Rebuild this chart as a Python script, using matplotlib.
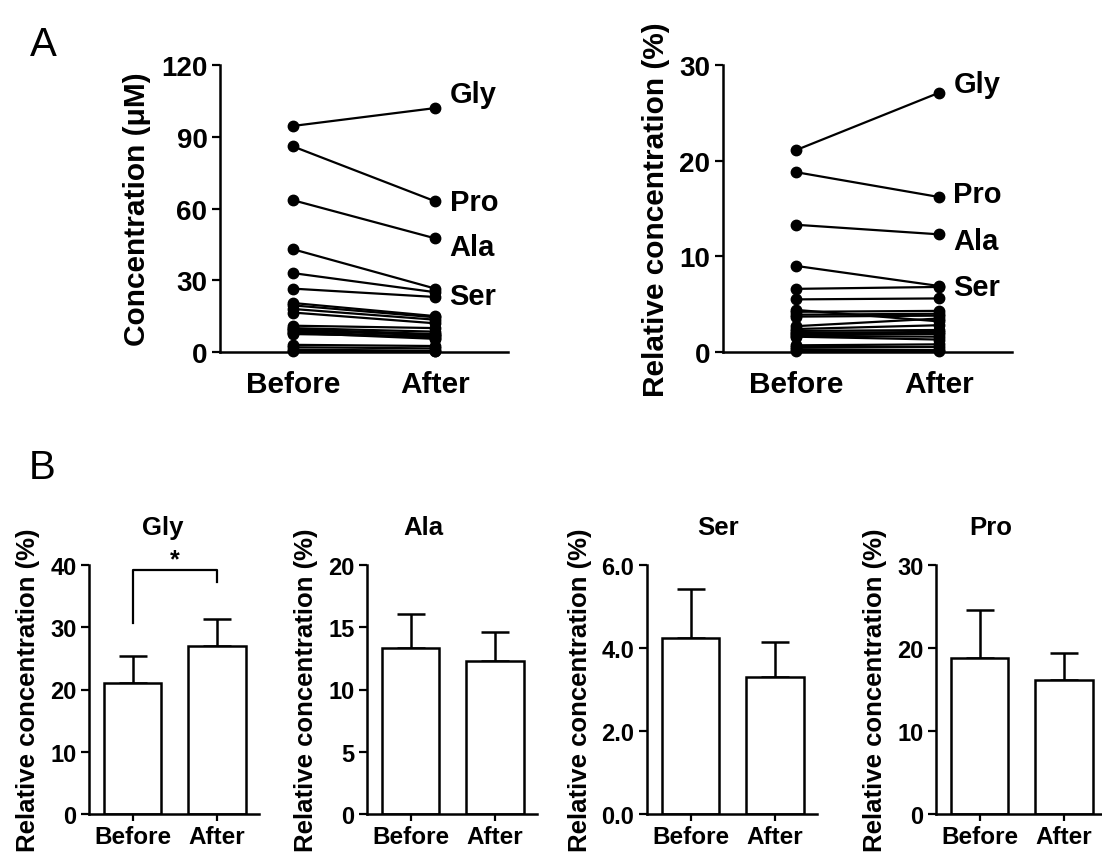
import matplotlib
matplotlib.use("Agg")
import matplotlib.pyplot as plt
import numpy as np

plt.rcParams['font.family'] = ['Liberation Sans', 'DejaVu Sans']
plt.rcParams['font.weight'] = 'bold'

groups = ["Before", "After"]

# panel A, absolute concentration (uM), one pair per amino acid
conc_before = [94.5, 86, 63.5, 43, 33, 26.5, 20.5, 19.5, 18, 16.5, 11, 10, 9.5, 9, 8.5, 8, 7.5, 3, 2, 1, 0.5]
conc_after = [102, 63, 47.5, 26.5, 25, 23, 15, 14.5, 13.5, 12, 10, 8.5, 7.5, 7, 6, 5.5, 6.5, 2.5, 1.5, 0.5, 0.3]

# panel A, relative concentration (%)
rel_before = [21.1, 18.8, 13.3, 9.0, 6.6, 5.5, 4.4, 4.2, 3.9, 3.7, 2.7, 2.4, 2.2, 2.0, 1.9, 1.7, 1.6, 0.7, 0.5, 0.3, 0.1]
rel_after = [27.1, 16.2, 12.3, 6.9, 6.8, 5.6, 3.2, 4.3, 4.0, 3.8, 3.5, 2.8, 2.3, 2.1, 1.9, 1.6, 1.3, 0.8, 0.5, 0.2, 0.1]

labelled = ["Gly", "Pro", "Ala", "Ser"]

# panel B, mean and SD (%)
bar_names = ["Gly", "Ala", "Ser", "Pro"]
bar_means = [[21.1, 27.0], [13.3, 12.3], [4.23, 3.31], [18.8, 16.2]]
bar_sd = [[4.3, 4.4], [2.8, 2.3], [1.2, 0.84], [5.8, 3.2]]
bar_ticks = [[0, 10, 20, 30, 40], [0, 5, 10, 15, 20], [0.0, 2.0, 4.0, 6.0], [0, 10, 20, 30]]

W, H = 1102, 854
fig = plt.figure(figsize=(W / 100, H / 100), dpi=100)


def px_axes(x0, x1, ytop, ybot):
    return fig.add_axes([x0 / W, (H - ybot) / H, (x1 - x0) / W, (ybot - ytop) / H])


def style(ax, ysize, xsize, xtick_len, xpad):
    for s in ["top", "right"]:
        ax.spines[s].set_visible(False)
    for s in ["left", "bottom"]:
        ax.spines[s].set_linewidth(1.8)
    ax.tick_params(axis="y", direction="out", length=6, width=1.6, labelsize=ysize, pad=3)
    ax.tick_params(axis="x", direction="out", length=xtick_len, width=1.6, labelsize=xsize, pad=xpad)
    for t in ax.get_xticklabels() + ax.get_yticklabels():
        t.set_fontweight("bold")


def paired(ax, before, after, ymax, ticks, label_y, ylabel):
    x = np.arange(2)
    for b, a in zip(before, after):
        ax.plot(x, [b, a], color="black", lw=1.6, marker="o", ms=7.5, clip_on=False, zorder=3)
    ax.set_xlim(-0.51, 1.51)
    ax.set_ylim(0, ymax)
    ax.set_yticks(ticks)
    ax.set_xticks(x, groups)
    style(ax, 20, 21.5, 0, 13)
    ax.set_ylabel(ylabel, fontsize=21.5, fontweight="bold", labelpad=7)
    for name, ly in zip(labelled, label_y):
        ax.text(1.1, ly, name, fontsize=21, fontweight="bold", va="center", ha="left")


ax1 = px_axes(220, 508, 66, 353)
paired(ax1, conc_before, conc_after, 120, [0, 30, 60, 90, 120], [108, 62.7, 44, 23.4],
       "Concentration (\u03bcM)")

ax2 = px_axes(723, 1012, 66, 353)
paired(ax2, rel_before, rel_after, 30, [0, 10, 20, 30], [28, 16.5, 11.6, 6.8],
       "Relative concentration (%)")

fig.text(43 / W, 1 - 45 / H, "A", fontsize=29, fontweight="normal", ha="center", va="center")
fig.text(42 / W, 1 - 468 / H, "B", fontsize=29, fontweight="normal", ha="center", va="center")

b_left = [89, 367, 647, 936]
title_x = [0.435, 0.33, 0.42, 0.32]
for i, name in enumerate(bar_names):
    ax = px_axes(b_left[i], b_left[i] + 170, 566, 815)
    x = np.arange(2)
    ax.bar(x, bar_means[i], width=0.68, color="white", edgecolor="black", linewidth=1.8, zorder=2)
    ax.errorbar(x, bar_means[i], yerr=[[0, 0], bar_sd[i]], fmt="none", ecolor="black",
                elinewidth=1.8, capsize=10, capthick=1.8, zorder=1)
    ax.set_xlim(-0.52, 1.5)
    ax.set_ylim(0, bar_ticks[i][-1])
    ax.set_yticks(bar_ticks[i])
    if name == "Ser":
        ax.set_yticklabels([f"{v:.1f}" for v in bar_ticks[i]])
    ax.set_xticks(x, groups)
    style(ax, 17, 17.5, 5, 3)
    ax.set_ylabel("Relative concentration (%)", fontsize=18.5, fontweight="bold", labelpad=7)
    ax.set_title(name, fontsize=18.5, fontweight="bold", x=title_x[i], pad=22)
    if name == "Gly":
        ax.plot([0, 0, 1, 1], [30.7, 39.2, 39.2, 37.3], color="black", lw=1.6, clip_on=False)
        ax.text(0.5, 39.0, "*", fontsize=18, fontweight="bold", ha="center", va="bottom")

fig.savefig("out.png", dpi=100)
